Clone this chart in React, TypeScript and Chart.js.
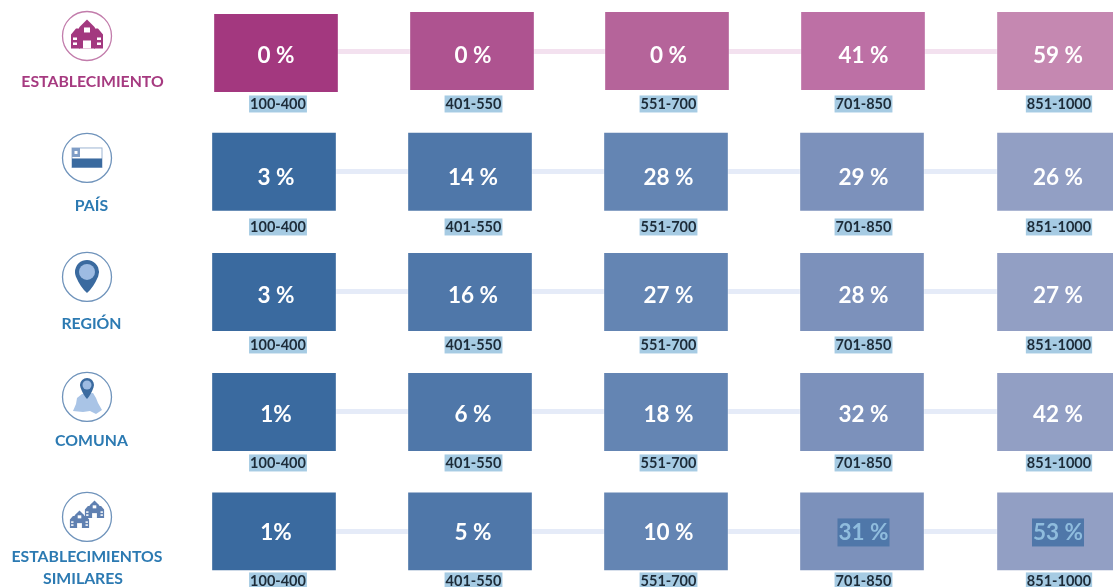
import React, { useEffect, useRef } from "react";
import { Chart, registerables } from "chart.js";

Chart.register(...registerables);

// ---- data ----
const bins = ["100-400", "401-550", "551-700", "701-850", "851-1000"];
const rowNames = ["ESTABLECIMIENTO", "PAÍS", "REGIÓN", "COMUNA", "ESTABLECIMIENTOS SIMILARES"];
const establecimiento = [0, 0, 0, 41, 59];
const pais = [3, 14, 28, 29, 26];
const region = [3, 16, 27, 28, 27];
const comuna = [1, 6, 18, 32, 42];
const similares = [1, 5, 10, 31, 53];
const rowValues = [establecimiento, pais, region, comuna, similares];

// ---- styles ----
const PINK = ["#a3387f", "#ae5390", "#b5649a", "#bd70a5", "#c588b1"];
const BLUE = ["#3a6a9f", "#4f77a9", "#6485b3", "#7c91bb", "#929fc4"];
const PINK_LINE = "#f3e1ef";
const BLUE_LINE = "#e5ebf8";
const PINK_TEXT = "#a63a80";
const BLUE_TEXT = "#2c7ab2";
const HALF = 0.33;
const FONT = "Lato, 'Open Sans', sans-serif";

const barNudge: number[][][] = [
  [[2, 1.5], [2, -0.5], [1, -0.5], [1, -0.5], [1, -0.5]],
  [[0, 0.3], [0, 0.3], [0, 0.3], [0, 0.3], [1, 0.3]],
  [[0, 0.5], [0, 0.5], [0, 0.5], [0, 0.5], [1, 0.5]],
  [[0, 0.5], [0, 0.5], [0, 0.5], [0, 0.5], [1, 0.5]],
  [[0, 0], [0, 0], [0, 0], [0, 0], [1, 0]],
];
const pctTextDx = [2, 3, 2.5, 1.5, 0];
const pctTextDy = [4.5, 6.5, 4.5, 3, 1];
const binTextDx = [4, 3.5, 2.5, 1.5, 1];
const binTextDy = [52.5, 55.5, 53.5, 51.5, 49.5];
const iconDy = [-15.5, -13.5, -14.5, -14.5, -14.5];
const nameDy = [30.5, 34.5, 32.5, 29.5];

function drawSchool(ctx: CanvasRenderingContext2D, cx: number, base: number, s: number, color: string) {
  ctx.save();
  ctx.translate(cx, base);
  ctx.scale(s, s);
  ctx.fillStyle = color;
  ctx.beginPath(); // wings
  ctx.moveTo(-16, 0); ctx.lineTo(-16, -14); ctx.lineTo(-11, -20); ctx.lineTo(-7, -20); ctx.lineTo(-7, 0);
  ctx.closePath();
  ctx.moveTo(16, 0); ctx.lineTo(16, -14); ctx.lineTo(11, -20); ctx.lineTo(7, -20); ctx.lineTo(7, 0);
  ctx.closePath();
  ctx.fill();
  ctx.beginPath(); // tower
  ctx.moveTo(-8, 0); ctx.lineTo(-8, -21); ctx.lineTo(0, -29); ctx.lineTo(8, -21); ctx.lineTo(8, 0);
  ctx.closePath();
  ctx.fill();
  ctx.fillStyle = "#ffffff";
  ctx.fillRect(-4, -8, 8, 8); // door
  ctx.fillRect(-3, -21, 6, 5); // clock
  ctx.fillRect(-14, -11, 4, 2.5);
  ctx.fillRect(-14, -6, 4, 2.5);
  ctx.fillRect(10, -11, 4, 2.5);
  ctx.fillRect(10, -6, 4, 2.5);
  ctx.restore();
}

function drawPin(ctx: CanvasRenderingContext2D, cx: number, cy: number, r: number, tip: number, outer: string, inner: string, innerR: number) {
  ctx.fillStyle = outer;
  ctx.beginPath();
  ctx.arc(cx, cy, r, Math.PI * 0.88, Math.PI * 0.12);
  ctx.quadraticCurveTo(cx + r * 0.55, cy + (tip - cy) * 0.72, cx, tip);
  ctx.quadraticCurveTo(cx - r * 0.55, cy + (tip - cy) * 0.72, cx - r * Math.cos(Math.PI * 0.12), cy + r * Math.sin(Math.PI * 0.12));
  ctx.closePath();
  ctx.fill();
  ctx.fillStyle = inner;
  ctx.beginPath();
  ctx.arc(cx, cy, innerR, 0, Math.PI * 2);
  ctx.fill();
}

function drawIcon(ctx: CanvasRenderingContext2D, row: number, cx: number, cy: number) {
  ctx.save();
  ctx.strokeStyle = row === 0 ? "#c27cab" : "#6f93bb";
  ctx.lineWidth = 1.3;
  ctx.beginPath();
  ctx.arc(cx, cy, 24.5, 0, Math.PI * 2);
  ctx.stroke();
  if (row === 0) {
    drawSchool(ctx, cx, cy + 12.5, 1, "#a3387f");
  } else if (row === 1) {
    ctx.strokeStyle = "#9db5d3";
    ctx.lineWidth = 1;
    ctx.strokeRect(cx - 15, cy - 10, 30, 19.5);
    ctx.fillStyle = "#3a6a9f";
    ctx.fillRect(cx - 15, cy + 0.5, 30, 9);
    ctx.fillStyle = "#7f9dc6";
    ctx.fillRect(cx - 15, cy - 10, 8, 9);
    ctx.fillStyle = "#ffffff";
    ctx.fillRect(cx - 12.5, cy - 7, 3, 3);
  } else if (row === 2) {
    drawPin(ctx, cx, cy - 5, 12, cy + 16, "#3a6a9f", "#9dbbe2", 8);
  } else if (row === 3) {
    ctx.fillStyle = "#a9c4e6";
    ctx.beginPath();
    ctx.moveTo(cx - 14, cy + 14);
    ctx.lineTo(cx - 11, cy + 7);
    ctx.lineTo(cx - 10, cy + 1);
    ctx.lineTo(cx - 5, cy - 3);
    ctx.lineTo(cx + 6, cy - 4);
    ctx.lineTo(cx + 9, cy + 1);
    ctx.lineTo(cx + 11, cy + 6);
    ctx.lineTo(cx + 15, cy + 13);
    ctx.lineTo(cx + 9, cy + 17);
    ctx.lineTo(cx + 3, cy + 14);
    ctx.lineTo(cx - 4, cy + 15);
    ctx.closePath();
    ctx.fill();
    drawPin(ctx, cx, cy - 12, 7, cy + 2, "#3a6a9f", "#9dbbe2", 4.5);
  } else {
    drawSchool(ctx, cx + 7.5, cy + 1, 0.6, "#5f80b1");
    drawSchool(ctx, cx - 7.5, cy + 11, 0.6, "#5f80b1");
  }
  ctx.restore();
}

const overlay = {
  id: "overlay",
  afterDatasetsUpdate(chart: any) {
    chart.data.datasets.forEach((ds: any, i: number) => {
      if (ds.type === "line") return;
      const meta = chart.getDatasetMeta(i);
      meta.data.forEach((el: any, c: number) => {
        const [dx, dy] = barNudge[ds.rowIndex][c];
        el.x += dx;
        el.y += dy;
        el.base += dy;
      });
    });
  },
  afterDatasetsDraw(chart: any) {
    const { ctx, scales } = chart;
    const xs = scales.x;
    const ys = scales.y;
    ctx.save();
    ctx.textAlign = "center";
    ctx.textBaseline = "middle";
    rowValues.forEach((vals, r) => {
      const yc = ys.getPixelForValue(r);
      vals.forEach((v, c) => {
        const x = xs.getPixelForValue(c);
        // percentage
        const txt = v === 1 ? `${v}%` : `${v} %`;
        const px = x + pctTextDx[c];
        const py = yc + pctTextDy[r];
        ctx.font = `bold 22.5px ${FONT}`;
        if (r === 4 && c >= 3) {
          const w = ctx.measureText(txt).width + 2;
          ctx.fillStyle = "#4f77a9";
          ctx.fillRect(px - w / 2, py - 14, w, 28);
          ctx.fillStyle = "#8fbcdd";
        } else {
          ctx.fillStyle = "#ffffff";
        }
        ctx.fillText(txt, px, py);
        // bin label
        ctx.font = `bold 14.5px ${FONT}`;
        const bx = x + binTextDx[c];
        const by = yc + binTextDy[r];
        const bw = ctx.measureText(bins[c]).width + 2;
        ctx.fillStyle = "#a6cbe3";
        ctx.fillRect(bx - bw / 2, by - 8.5, bw, 17);
        ctx.fillStyle = "#1c2b38";
        ctx.fillText(bins[c], bx, by);
      });
      // row icon and name
      drawIcon(ctx, r, 87, yc + iconDy[r]);
      ctx.font = `bold 15.8px ${FONT}`;
      ctx.fillStyle = r === 0 ? PINK_TEXT : BLUE_TEXT;
      if (r === 4) {
        const [a, b] = rowNames[r].split(" ");
        ctx.fillText(a, 87, yc + 25.5);
        ctx.fillText(b, 83, yc + 47);
      } else {
        ctx.fillText(rowNames[r], r === 0 ? 92.5 : 91.5, yc + nameDy[r]);
      }
    });
    ctx.restore();
  },
};

export default function App() {
  const ref = useRef<HTMLCanvasElement>(null);
  useEffect(() => {
    if (!ref.current) return;
    const lines = rowValues.map((_, r) => ({
      type: "line" as const,
      data: bins.map(() => r),
      borderColor: r === 0 ? PINK_LINE : BLUE_LINE,
      borderWidth: 5,
      pointRadius: 0,
      order: 2,
    }));
    const bars = rowValues.map((_, r) => ({
      type: "bar" as const,
      rowIndex: r,
      data: bins.map(() => [r - HALF, r + HALF]),
      backgroundColor: r === 0 ? PINK : BLUE,
      borderColor: "rgba(255,255,255,0.3)",
      borderWidth: 1,
      borderSkipped: false,
      barThickness: 125,
      grouped: false,
      order: 1,
    }));
    const chart = new Chart(ref.current, {
      data: { labels: bins, datasets: [...lines, ...bars] as any },
      options: {
        animation: false,
        responsive: false,
        layout: { padding: { left: 176, right: 0, top: 0, bottom: 0 } },
        plugins: { legend: { display: false }, tooltip: { enabled: false } },
        scales: {
          x: { type: "category", display: false, offset: true },
          y: { type: "linear", display: false, reverse: true, min: -0.429, max: 4.463 },
        },
      },
      plugins: [overlay],
    });
    return () => chart.destroy();
  }, []);
  return (
    <div style={{ position: "fixed", left: 0, top: 0, width: 1113, height: 587, overflow: "hidden", background: "#fff" }}>
      <canvas ref={ref} width={1156} height={587} style={{ display: "block" }} />
    </div>
  );
}
